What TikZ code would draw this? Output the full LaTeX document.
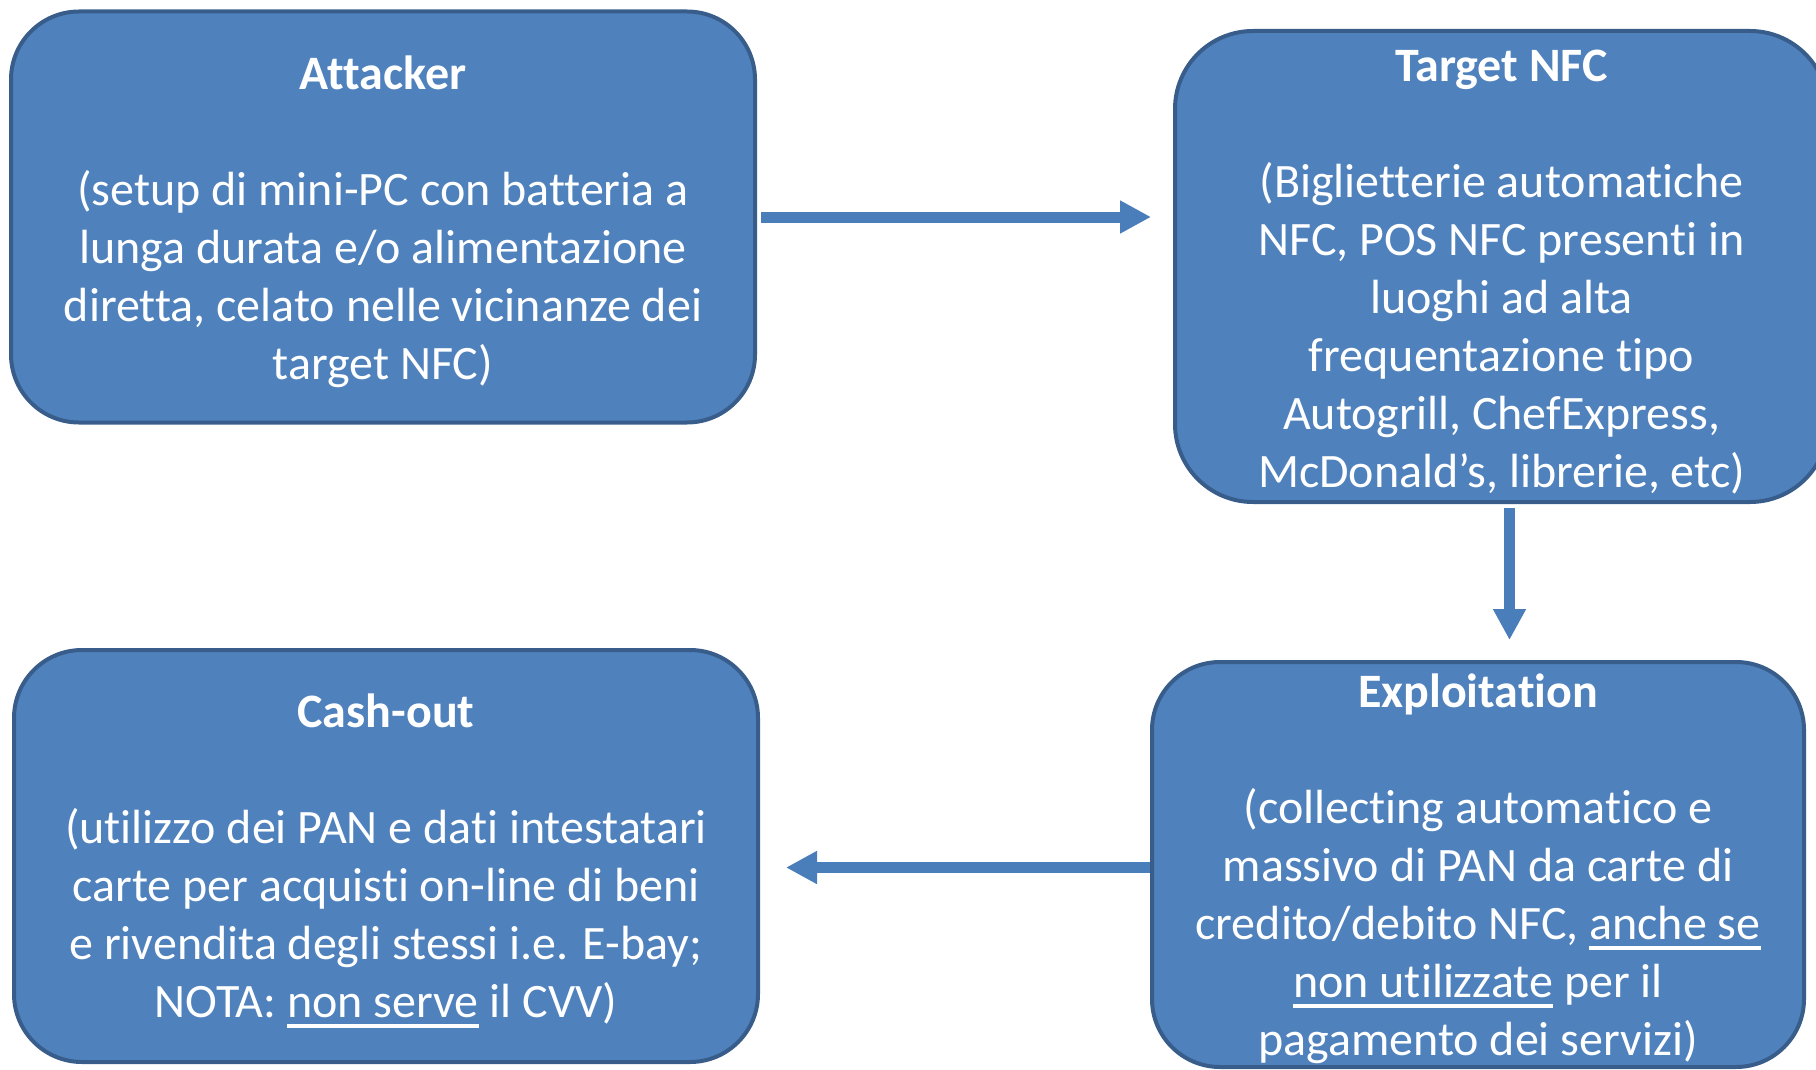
\documentclass[tikz,border=0pt]{standalone}
\usepackage{fontspec}
\setmainfont{Carlito}[Ligatures={TeX,NoCommon}]
\usepackage{xcolor}
\usetikzlibrary{arrows.meta}

\definecolor{boxfill}{HTML}{4F81BD}
\definecolor{boxline}{HTML}{385D8A}
\definecolor{arrowblue}{HTML}{4A7EBB}

% thick underline as in the slide
\newcommand{\undl}[1]{\sbox0{#1}\rlap{\rule[-5pt]{\wd0}{1.8pt}}\usebox0}
% bold title, a little lower
\newcommand{\ttl}[1]{\rule{0pt}{21.5pt}\textbf{#1}}

\begin{document}
\begin{tikzpicture}[x=0.5pt,y=-0.5pt,every path/.style={>={Triangle[length=15.5pt,width=15.5pt]}},
	stage/.style={rectangle,rounded corners=34pt,draw=boxline,line width=2pt,fill=boxfill,text=white,align=center,inner sep=0pt,font=\fontsize{24pt}{29pt}\selectfont},
	link/.style={->,draw=arrowblue,line width=5.5pt}]
		\useasboundingbox (0,0) rectangle (1816,1070);

		% draw the four stages
		\node (attacker) at (383,217) [stage,minimum width=372pt,minimum height=205.5pt] {\ttl{Attacker}\\[29pt](setup di mini-PC con batteria a\\lunga durata e/o alimentazione\\diretta, celato nelle vicinanze dei\\target NFC)};
		\node (target) at (1501.5,266.5) [stage,rounded corners=39pt,minimum width=326.5pt,minimum height=235.5pt] {\ttl{Target NFC}\\[29pt](Biglietterie automatiche\\NFC, POS NFC presenti in\\luoghi ad alta\\frequentazione tipo\\Autogrill, ChefExpress,\\McDonald's, librerie, etc)};
		\node (expl) at (1478,864.5) [stage,minimum width=326pt,minimum height=202.5pt] {\ttl{Exploitation}\\[29pt](collecting automatico e\\massivo di PAN da carte di\\credito/debito NFC, \undl{anche se}\\\undl{non utilizzate} per il\\pagamento dei servizi)};
		\node (cash) at (386,856) [stage,minimum width=372pt,minimum height=206pt] {\ttl{Cash-out}\\[29pt](utilizzo dei PAN e dati intestatari\\carte per acquisti on-line di beni\\e rivendita degli stessi i.e. E-bay;\\NOTA: \undl{non serve} il CVV)};

		% draw arrow from attacker to target
		\draw[link,shorten <=2pt,shorten >=11pt] (attacker.east) -- (attacker.east -| target.west);

		% draw arrow from target down to exploitation
		\draw[link,shorten <=2pt,shorten >=10pt] ([xshift=4pt]target.south) -- ([xshift=4pt]target.south |- expl.north);

		% draw arrow from exploitation back to cash-out
		\draw[link,shorten >=13pt] ([yshift=-1.5pt]expl.west) -- ([yshift=-1.5pt]expl.west -| cash.east);
\end{tikzpicture}
\end{document}
